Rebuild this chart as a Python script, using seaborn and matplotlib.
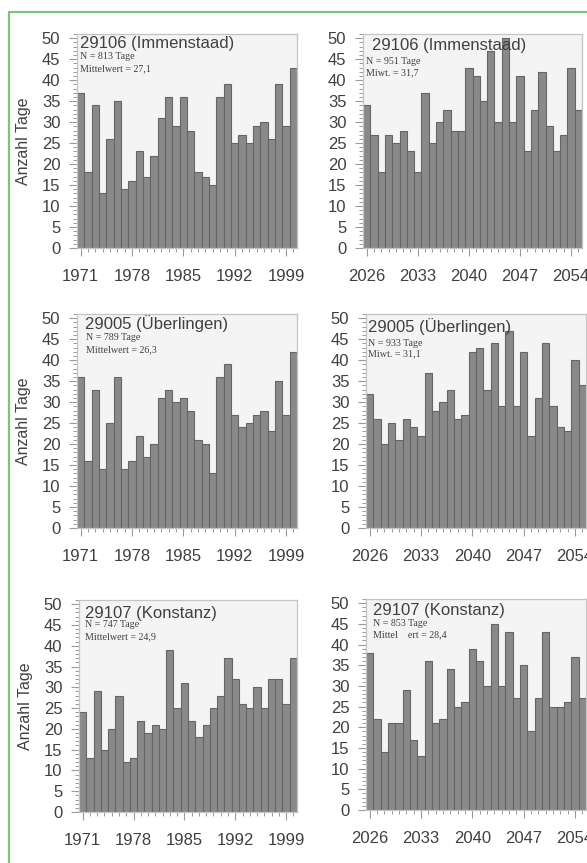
import matplotlib
matplotlib.use("Agg")
import matplotlib.pyplot as plt
from matplotlib.lines import Line2D
from matplotlib.ticker import MultipleLocator, FixedLocator
import pandas as pd
import seaborn as sns

# Years of the reference period and of the projection period
years_hist = list(range(1971, 2001))
years_proj = list(range(2026, 2056))

# Number of days per year, per station
immenstaad_hist = [37, 18, 34, 13, 26, 35, 14, 16, 23, 17, 22, 31, 36, 29, 36,
                   28, 18, 17, 15, 36, 39, 25, 27, 25, 29, 30, 26, 39, 29, 43]
immenstaad_proj = [34, 27, 18, 27, 25, 28, 23, 18, 37, 25, 30, 33, 28, 28, 43,
                   41, 35, 47, 30, 50, 30, 41, 23, 33, 42, 29, 23, 27, 43, 33]
ueberlingen_hist = [36, 16, 33, 14, 25, 36, 14, 16, 22, 17, 20, 31, 33, 30, 31,
                    28, 21, 20, 13, 36, 39, 27, 24, 25, 27, 28, 23, 35, 27, 42]
ueberlingen_proj = [32, 26, 20, 25, 21, 26, 24, 22, 37, 28, 30, 33, 26, 27, 42,
                    43, 33, 44, 29, 47, 29, 42, 22, 31, 44, 29, 24, 23, 40, 34]
konstanz_hist = [24, 13, 29, 15, 20, 28, 12, 13, 22, 19, 21, 20, 39, 25, 31,
                 22, 18, 21, 25, 28, 37, 32, 26, 25, 30, 25, 32, 32, 26, 37]
konstanz_proj = [38, 22, 14, 21, 21, 29, 17, 13, 36, 21, 22, 34, 25, 26, 39,
                 36, 30, 45, 30, 43, 27, 35, 19, 27, 43, 25, 25, 26, 37, 27]

station_titles = ["29106 (Immenstaad)", "29005 (Überlingen)", "29107 (Konstanz)"]
n_labels = [["N = 813 Tage", "N = 951 Tage"],
            ["N = 789 Tage", "N = 933 Tage"],
            ["N = 747 Tage", "N = 853 Tage"]]
mean_labels = [["Mittelwert = 27,1", "Miwt. = 31,7"],
               ["Mittelwert = 26,3", "Miwt. = 31,1"],
               ["Mittelwert = 24,9", "Mittel    ert = 28,4"]]
series = [[immenstaad_hist, immenstaad_proj],
          [ueberlingen_hist, ueberlingen_proj],
          [konstanz_hist, konstanz_proj]]
period_years = [years_hist, years_proj]

sns.set_style("white")
plt.rcParams["font.family"] = ["Liberation Sans", "DejaVu Sans"]

W, H = 587, 863
fig = plt.figure(figsize=(W / 100, H / 100), dpi=100)

# panel frames in pixels: left, top, right, bottom
boxes = [[(77, 34, 297, 248), (363, 34, 582, 248)],
         [(77, 314, 297, 528), (366, 314, 586, 528)],
         [(79, 600, 297, 812), (366, 599, 586, 810)]]
# text anchors in pixels: (x title, baseline title, x info, baseline N, baseline mean)
text_pos = [[(80, 48, 80, 59, 71), (372, 50, 366, 64, 75)],
            [(85, 329, 86, 340, 352), (368, 332, 368, 346, 356)],
            [(85, 618, 85, 627, 639), (373, 615, 373, 626, 637)]]

bar_color = "#898989"
edge_color = "#656565"
text_color = "#404040"
tick_color = "#9a9a9a"

for r in range(3):
    for c in range(2):
        l, t, rr, b = boxes[r][c]
        ax = fig.add_axes([l / W, 1 - b / H, (rr - l) / W, (b - t) / H])
        yrs = period_years[c]
        df = pd.DataFrame({"Jahr": yrs, "Tage": series[r][c]})
        sns.barplot(data=df, x="Jahr", y="Tage", ax=ax, color=bar_color,
                    saturation=1, width=1.0, edgecolor=edge_color,
                    linewidth=0.8, errorbar=None)
        ax.set_facecolor("#f4f4f4")
        for sp in ax.spines.values():
            sp.set_color("#c4c4c4")
            sp.set_linewidth(0.9)
        ax.set_xlim(-0.5, len(yrs) - 0.5)
        ax.set_ylim(0, 51)
        major_idx = list(range(0, len(yrs), 7))
        ax.set_xticks(major_idx)
        ax.set_xticklabels([str(yrs[i]) for i in major_idx])
        ax.xaxis.set_minor_locator(FixedLocator(range(len(yrs))))
        ax.yaxis.set_major_locator(MultipleLocator(5))
        ax.yaxis.set_minor_locator(MultipleLocator(1))
        ax.tick_params(axis="both", which="major", direction="out", length=6,
                       width=0.8, color=tick_color, labelcolor=text_color,
                       bottom=True, left=True)
        ax.tick_params(axis="both", which="minor", direction="out", length=3,
                       width=0.7, color=tick_color, bottom=True, left=True)
        ax.tick_params(axis="x", which="major", labelsize=12, pad=9)
        ax.tick_params(axis="y", which="major", labelsize=12, pad=6)
        ax.set_xlabel("")
        if c == 0:
            ax.set_ylabel("Anzahl Tage", fontsize=11.5, color=text_color,
                          labelpad=8)
        else:
            ax.set_ylabel("")

        tx, tb, ix, nb, mb = text_pos[r][c]
        fig.text(tx / W, 1 - tb / H, station_titles[r], fontsize=12,
                 color=text_color, va="baseline", ha="left", zorder=10)
        fig.text(ix / W, 1 - nb / H, n_labels[r][c], fontsize=7.2,
                 family=["Liberation Serif", "DejaVu Serif"],
                 color=text_color, va="baseline", ha="left", zorder=10)
        fig.text(ix / W, 1 - mb / H, mean_labels[r][c], fontsize=7.2,
                 family=["Liberation Serif", "DejaVu Serif"],
                 color=text_color, va="baseline", ha="left", zorder=10)

# green page frame (top and left edges)
green = "#7cc47c"
fig.add_artist(Line2D([9 / W, 1.0], [1 - 12 / H, 1 - 12 / H],
                      transform=fig.transFigure, color=green, lw=1.6))
fig.add_artist(Line2D([9 / W, 9 / W], [1 - 12 / H, 0.0],
                      transform=fig.transFigure, color=green, lw=1.6))

fig.savefig("out.png", dpi=100)
